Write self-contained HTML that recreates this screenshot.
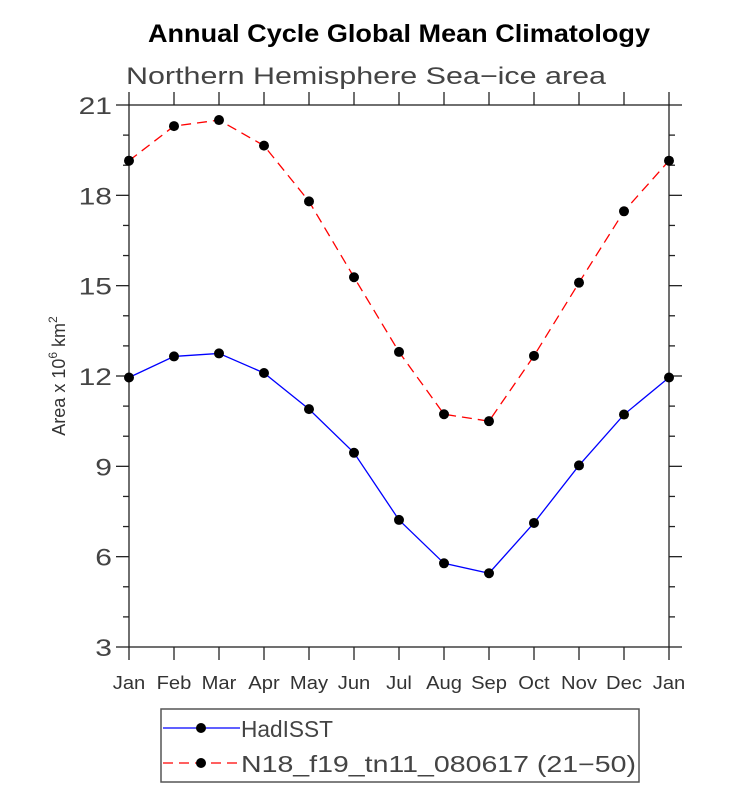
<!DOCTYPE html>
<html><head><meta charset="utf-8"><style>
body{margin:0;background:#fff}
svg{display:block;font-family:"Liberation Sans",sans-serif}
</style></head><body>
<svg id="c" width="733" height="788">
<text x="148" y="42" font-size="25" font-weight="bold" textLength="502" lengthAdjust="spacingAndGlyphs">Annual Cycle Global Mean Climatology</text>
<text x="126" y="84" font-size="24" fill="#444" textLength="480" lengthAdjust="spacingAndGlyphs">Northern Hemisphere Sea−ice area</text>
<text transform="translate(65,376) rotate(-90)" text-anchor="middle" font-size="18" fill="#333" id="ytitle">Area x 10<tspan font-size="12" dy="-8">6</tspan><tspan dy="8"> km</tspan><tspan font-size="12" dy="-8">2</tspan></text>
<g id="axes"></g>
<g id="series"></g>
<rect x="161" y="709" width="478" height="73" fill="none" stroke="#555" stroke-width="1.5"/>
<g>
<line x1="163" y1="728" x2="240" y2="728" stroke="#0000ff" stroke-width="1.3"/>
<circle cx="201" cy="728" r="5" fill="#000"/>
<text x="241" y="737" font-size="23" fill="#444" textLength="92" lengthAdjust="spacingAndGlyphs">HadISST</text></g>
<g>
<line x1="163" y1="763" x2="240" y2="763" stroke="#ff0000" stroke-width="1.3" stroke-dasharray="10,6"/>
<circle cx="201" cy="763" r="5" fill="#000"/>
<text x="241" y="772" font-size="23" fill="#444" textLength="395" lengthAdjust="spacingAndGlyphs">N18_f19_tn11_080617 (21−50)</text></g>
</svg>
<script>
const months=["Jan","Feb","Mar","Apr","May","Jun","Jul","Aug","Sep","Oct","Nov","Dec","Jan"];
const hadisst=[11.95,12.65,12.75,12.1,10.9,9.45,7.22,5.78,5.45,7.12,9.03,10.72,11.95];
const model=[19.15,20.3,20.5,19.65,17.8,15.28,12.8,10.73,10.5,12.67,15.1,17.47,19.15];
const yTicks=[3,6,9,12,15,18,21];
const L=129,R=669,T=105,B=647,ymin=3,ymax=21;
const xs=i=>L+(R-L)*i/(months.length-1);
const ys=v=>B-(B-T)*(v-ymin)/(ymax-ymin);
const NS="http://www.w3.org/2000/svg";
function mk(t,a,p){const e=document.createElementNS(NS,t);for(const k in a)e.setAttribute(k,a[k]);p.appendChild(e);return e;}
function widen(t,f){const w=t.getComputedTextLength();t.setAttribute('textLength',w*f);t.setAttribute('lengthAdjust','spacingAndGlyphs');}
const ax=document.getElementById('axes');
const frame=mk('rect',{x:L,y:T,width:R-L,height:B-T,fill:'none',stroke:'#222','stroke-width':1.3},ax);


months.forEach((m,i)=>{const x=xs(i);
mk('line',{x1:x,y1:B,x2:x,y2:B+13,stroke:'#222','stroke-width':1.3},ax);
mk('line',{x1:x,y1:T,x2:x,y2:T-13,stroke:'#222','stroke-width':1.3},ax);
const t=mk('text',{x:x,y:B+42,'text-anchor':'middle','font-size':18,fill:'#333'},ax);t.textContent=m;


widen(t,1.12);});
for(let v=ymin;v<=ymax;v+=1){const y=ys(v);const maj=(v-ymin)%3===0;const len=maj?13:6;
mk('line',{x1:L-len,y1:y,x2:L,y2:y,stroke:'#222','stroke-width':1.3},ax);
mk('line',{x1:R,y1:y,x2:R+len,y2:y,stroke:'#222','stroke-width':1.3},ax);}
yTicks.forEach(v=>{const t=mk('text',{x:L-17,y:ys(v)+9,'text-anchor':'end','font-size':24,fill:'#444'},ax);t.textContent=v;


widen(t,1.25);});
const yt=document.getElementById('ytitle');
const sg=document.getElementById('series');
function series(vals,col,dash,name){const g=mk('g',{},sg);


mk('polyline',{points:vals.map((v,i)=>xs(i)+','+ys(v)).join(' '),fill:'none',stroke:col,'stroke-width':1.3,'stroke-dasharray':dash},g);
vals.forEach((v,i)=>{const c=mk('circle',{cx:xs(i),cy:ys(v),r:5,fill:'#000'},g);

});}
series(hadisst,'#0000ff','none','series-hadisst');
series(model,'#ff0000','10,6','series-model');
</script>
</body></html>
